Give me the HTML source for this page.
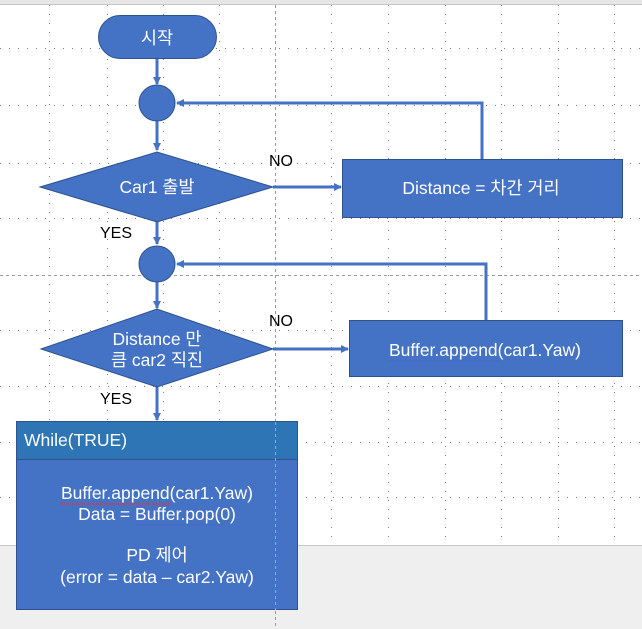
<!DOCTYPE html>
<html><head><meta charset="utf-8"><style>
html,body{margin:0;padding:0;background:#fff}
svg{display:block}
text{font-family:"Liberation Sans","Noto Sans CJK KR",sans-serif}
</style></head><body>
<svg width="642" height="629" viewBox="0 0 642 629" xmlns="http://www.w3.org/2000/svg">
<defs>
<marker id="ar" markerWidth="8" markerHeight="8" refX="7" refY="4" orient="auto" markerUnits="userSpaceOnUse"><path d="M0,0 L8,4 L0,8 z" fill="#4472c4"/></marker>
</defs>
<rect x="0" y="0" width="642" height="4" fill="#e6e6e6"/>
<line x1="0" y1="4.5" x2="642" y2="4.5" stroke="#c8c8c8"/>
<g stroke="#777" stroke-width="1" stroke-dasharray="1 8">
<line x1="49.5" y1="5" x2="49.5" y2="545"/><line x1="107.5" y1="5" x2="107.5" y2="545"/>
<line x1="163.5" y1="5" x2="163.5" y2="545"/><line x1="219.5" y1="5" x2="219.5" y2="545"/>
<line x1="331.5" y1="5" x2="331.5" y2="545"/><line x1="388.5" y1="5" x2="388.5" y2="545"/>
<line x1="445.5" y1="5" x2="445.5" y2="545"/><line x1="501.5" y1="5" x2="501.5" y2="545"/>
<line x1="558.5" y1="5" x2="558.5" y2="545"/><line x1="614.5" y1="5" x2="614.5" y2="545"/>
<line x1="0" y1="48.5" x2="642" y2="48.5"/><line x1="0" y1="105.5" x2="642" y2="105.5"/>
<line x1="0" y1="163.5" x2="642" y2="163.5"/><line x1="0" y1="218.5" x2="642" y2="218.5"/>
<line x1="0" y1="330.5" x2="642" y2="330.5"/><line x1="0" y1="386.5" x2="642" y2="386.5"/>
<line x1="0" y1="442.5" x2="642" y2="442.5"/><line x1="0" y1="497.5" x2="642" y2="497.5"/>
</g>
<rect x="0" y="545" width="642" height="84" fill="#efefef"/>
<line x1="0" y1="545.5" x2="642" y2="545.5" stroke="#c8c8c8"/>
<g stroke="#999" stroke-dasharray="3 3">
<line x1="0" y1="275.5" x2="642" y2="275.5"/>
<line x1="275.5" y1="5" x2="275.5" y2="629"/>
</g>
<g stroke="#4472c4" stroke-width="3" fill="none">
<line x1="157" y1="58" x2="157" y2="84" marker-end="url(#ar)"/>
<line x1="157" y1="121" x2="157" y2="150" marker-end="url(#ar)"/>
<line x1="157" y1="222" x2="157" y2="244" marker-end="url(#ar)"/>
<line x1="157" y1="281" x2="157" y2="308" marker-end="url(#ar)"/>
<line x1="157" y1="387" x2="157" y2="420" marker-end="url(#ar)"/>
<line x1="273" y1="187" x2="341" y2="187" marker-end="url(#ar)"/>
<line x1="273" y1="349" x2="348" y2="349" marker-end="url(#ar)"/>
<polyline points="482,159 482,103 177,103" marker-end="url(#ar)"/>
<polyline points="486,320 486,264 177,264" marker-end="url(#ar)"/>
</g>
<g fill="#4472c4" stroke="#2f528f" stroke-width="1">
<rect x="98.5" y="15.5" width="118" height="43" rx="21.5"/>
<circle cx="157" cy="103" r="18"/>
<polygon points="40,187 157,152 273,187 157,222"/>
<rect x="342.5" y="159.5" width="280" height="58"/>
<circle cx="157" cy="264" r="18"/>
<polygon points="41,349 157,309 273,349 157,387"/>
<rect x="349.5" y="320.5" width="273" height="56"/>
<rect x="16.5" y="421.5" width="281" height="188"/>
</g>
<rect x="17" y="422" width="280" height="37" fill="#2e75b6"/>
<line x1="17" y1="459.5" x2="297" y2="459.5" stroke="#2f528f"/>
<line x1="275.5" y1="422" x2="275.5" y2="610" stroke="#8fa8d8" stroke-dasharray="3 3"/>
<g fill="#fff" font-size="17.5" text-anchor="middle">
<text x="157" y="44">시작</text>
<text x="157" y="193">Car1 출발</text>
<text x="481" y="194">Distance = 차간 거리</text>
<text x="157" y="345">Distance 만</text>
<text x="157" y="366">큼 car2 직진</text>
<text x="485" y="356">Buffer.append(car1.Yaw)</text>
<text x="157" y="499">Buffer.append(car1.Yaw)</text>
<text x="157" y="520">Data = Buffer.pop(0)</text>
<text x="157" y="561">PD 제어</text>
<text x="157" y="583">(error = data – car2.Yaw)</text>
<text x="24" y="446" text-anchor="start">While(TRUE)</text>
</g>
<g stroke="#e03030" stroke-width="1" fill="none" stroke-dasharray="1 1">
<line x1="389" y1="361" x2="500" y2="361"/>
<line x1="60" y1="504" x2="172" y2="504"/>
<line x1="137" y1="525" x2="222" y2="525"/>
</g>
<g fill="#000" font-size="16">
<text x="269" y="166">NO</text>
<text x="100" y="238">YES</text>
<text x="269" y="326">NO</text>
<text x="100" y="404">YES</text>
</g>
</svg>
</body></html>
